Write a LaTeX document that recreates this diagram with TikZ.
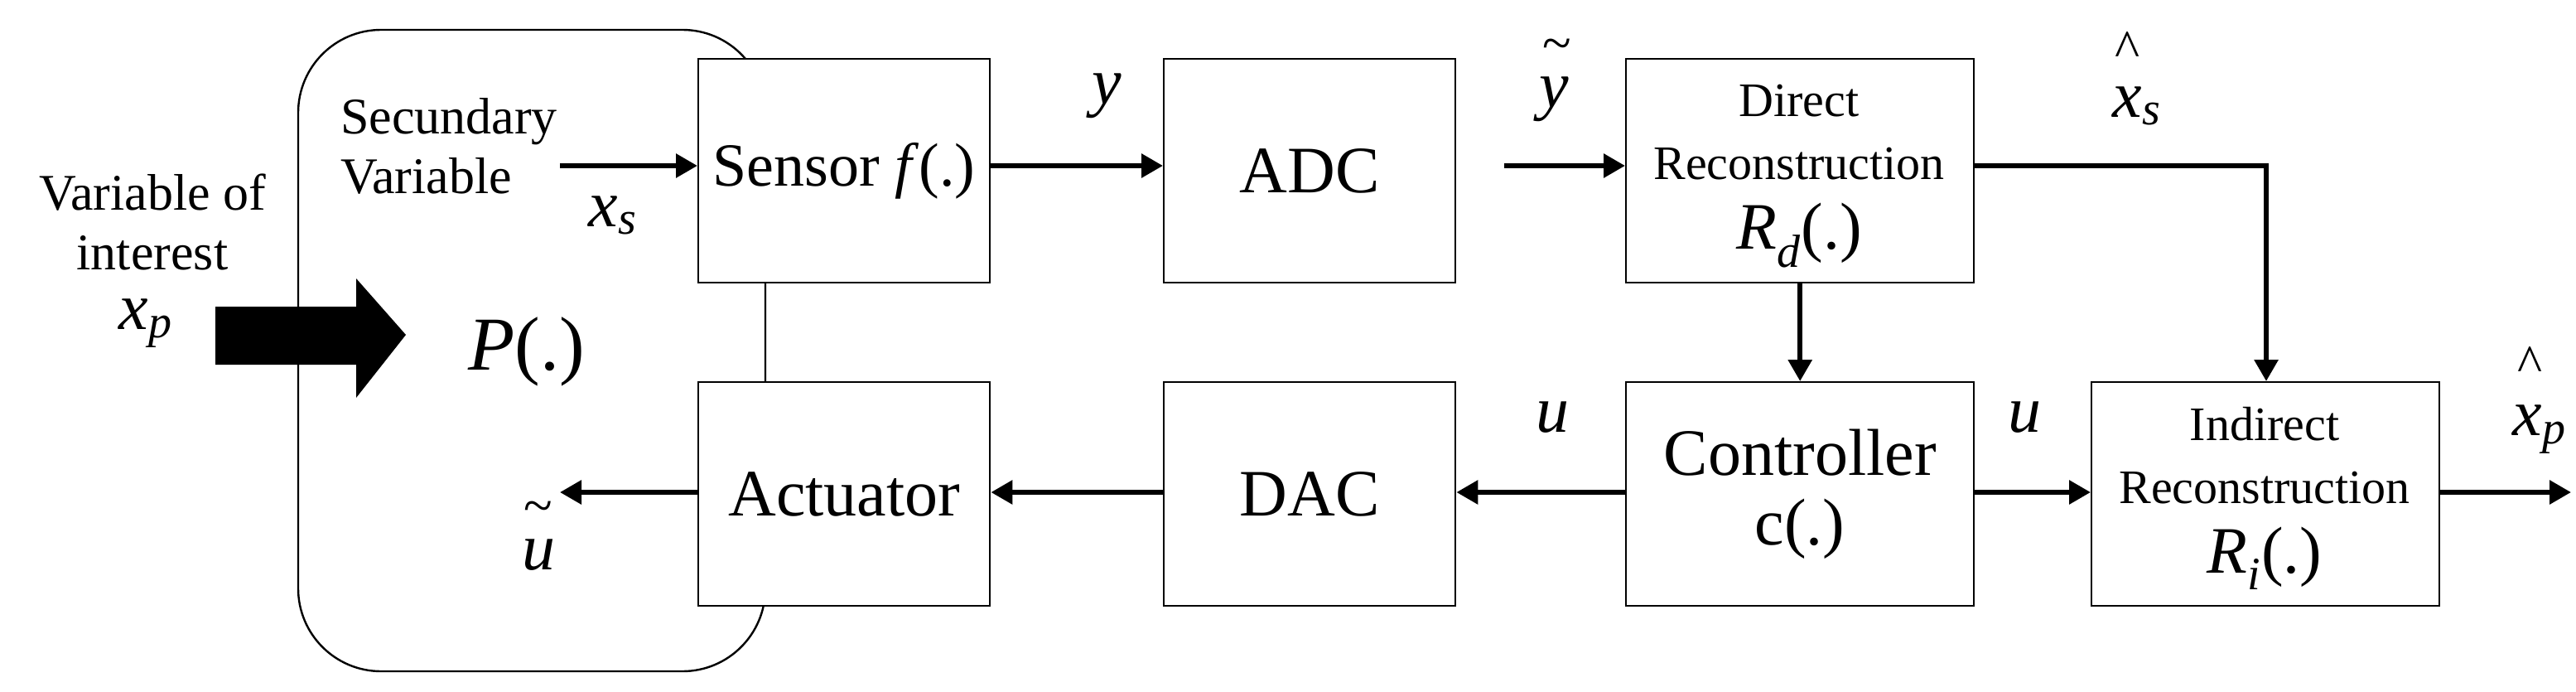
\documentclass[tikz,border=0pt]{standalone}
\usepackage{fontspec}
\setmainfont{Liberation Serif}
\usetikzlibrary{arrows.meta}
\newcommand{\sub}[2]{\textit{#1}\textsubscript{\textit{#2}}}
\begin{document}
\begin{tikzpicture}[x=1pt,y=-1pt,
  blk/.style={draw,line width=1.2pt,fill=white,minimum width=176pt,minimum height=135pt,anchor=north west,inner sep=0pt,align=center,font=\fontsize{40}{44}\selectfont},
  wblk/.style={blk,minimum width=210pt},
  ar/.style={line width=3pt,-{Triangle[length=13pt,width=14pt]}},
  lab/.style={font=\fontsize{40}{44}\selectfont,inner sep=0pt},
  acc/.style={font=\fontsize{32}{36}\selectfont,inner sep=0pt},
  sm/.style={font=\fontsize{31}{36}\selectfont,align=left,inner sep=0pt},
  rec/.style={font=\fontsize{29}{38}\selectfont,align=center,inner sep=0pt}]
\useasboundingbox (0,0) rectangle (1555,417.5);
\draw[line width=1.2pt,rounded corners=50pt] (180,18) rectangle (462,405);
\node[blk,font=\fontsize{37}{42}\selectfont] (sen) at (421,35) {Sensor \textit{f}(.)};
\node[blk] (adc) at (702,35) {ADC};
\node[wblk] (dir) at (981,35) {};
\node[blk] (act) at (421,230) {Actuator};
\node[blk] (dac) at (702,230) {DAC};
\node[wblk] (con) at (981,230) {Controller\\[-2pt]c(.)};
\node[wblk] (ind) at (1262,230) {};
\node[rec] at (1086,80) {Direct\\Reconstruction};
\node[lab] at (1086,142) {\sub{R}{d}(.)};
\node[rec] at (1367,275) {Indirect\\Reconstruction};
\node[lab] at (1367,337) {\sub{R}{i}(.)};
% fat arrow
\fill (130,185) -- (215,185) -- (215,168) -- (245,202) -- (215,240) -- (215,220) -- (130,220) -- cycle;
\node[sm] at (271,88) {Secundary\\Variable};
\node[sm,align=center] at (92,134) {Variable of\\interest};
\node[lab] at (88,195) {\sub{x}{p}};
\node[font=\fontsize{46}{50}\selectfont,inner sep=0pt] at (318,212) {\textit{P}(.)};
\coordinate (xs0) at (338,100);
\draw[ar] (xs0) -- (sen.west|-xs0);
\node[lab] at (370,130) {\sub{x}{s}};
\draw[ar] (sen.east|-xs0) -- (adc.west|-xs0);
\node[lab] at (668,58) {\textit{y}};
\coordinate (a1) at (908,100);
\draw[ar] (a1) -- (dir.west|-a1);
\node[lab] at (938,60) {\textit{y}};
\node[acc] at (940,30) {\textasciitilde};
\coordinate (c1) at (1368,100);
\draw[ar] (dir.east|-c1) -- (c1) -- (ind.north-|c1);
\node[lab] at (1290,64) {\sub{x}{s}};
\node[acc] at (1284,30) {\textasciicircum};
\draw[ar] (dir.south) -- (con.north);
\coordinate (r2) at (0,297);
\draw[ar] (con.west|-r2) -- (dac.east|-r2);
\draw[ar] (dac.west|-r2) -- (act.east|-r2);
\coordinate (ut) at (338,297);
\draw[ar] (act.west|-r2) -- (ut);
\node[lab] at (325,335) {\textit{u}};
\node[acc] at (325,309) {\textasciitilde};
\node[lab] at (937,252) {\textit{u}};
\draw[ar] (con.east|-r2) -- (ind.west|-r2);
\node[lab] at (1222,252) {\textit{u}};
\coordinate (out) at (1552,297);
\draw[ar] (ind.east|-r2) -- (out);
\node[lab] at (1533,259) {\sub{x}{p}};
\node[acc] at (1527,220) {\textasciicircum};
\draw[line width=1.2pt] (462,170) -- (462,230);
\end{tikzpicture}
\end{document}
